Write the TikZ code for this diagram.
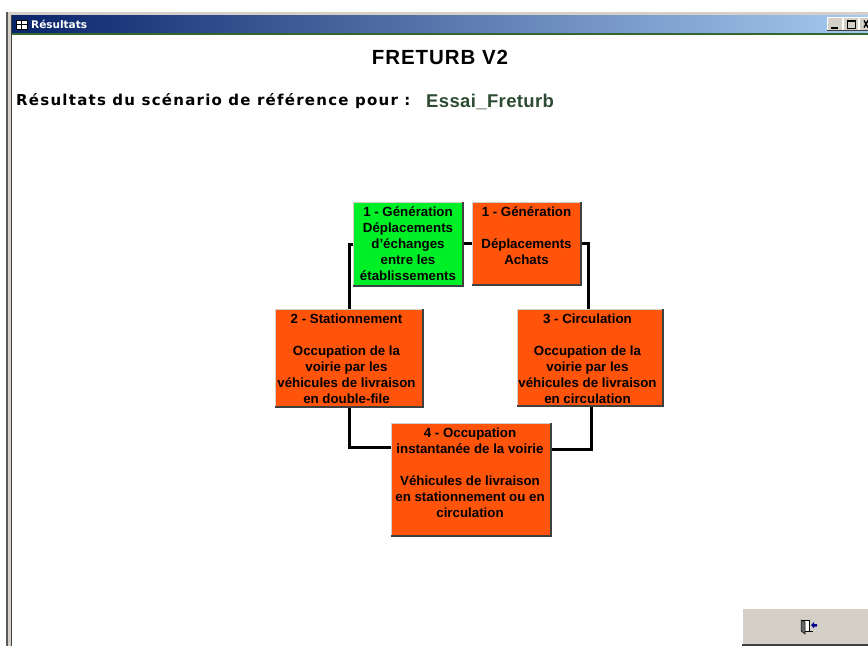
\documentclass[tikz,border=0pt]{standalone}
\usepackage{fontspec}
\setmainfont{Liberation Sans}
\newfontfamily\verd{DejaVu Sans}
\usetikzlibrary{calc}
\definecolor{orangebox}{RGB}{255,84,10}
\definecolor{greenbox}{RGB}{0,240,40}
\definecolor{winface}{RGB}{212,208,200}
\definecolor{titleL}{RGB}{10,36,106}
\definecolor{titleR}{RGB}{166,202,240}
\definecolor{darkedge}{RGB}{64,64,64}
\definecolor{essai}{RGB}{45,75,50}
\newcommand{\bt}[4][0pt]{\parbox[t][#3pt][t]{#2pt}{\centering\rightskip=#1 plus 1fil\fontsize{13.3}{16}\bfseries\selectfont\rule{0pt}{14.3pt}#4\par}}
\newcommand{\bevel}[1]{%
  \draw[bevellight] (#1.south west) -- (#1.north west) -- (#1.north east);
  \draw[beveldark] (#1.north east) -- (#1.south east) -- (#1.south west);}
\tikzset{
  stagebox/.style={inner sep=0pt,outer sep=0pt,anchor=north west,fill=orangebox,text=black},
  stagegreen/.style={stagebox,fill=greenbox},
  link/.style={line width=3pt,line join=miter,draw=black},
  bevellight/.style={line width=1pt,draw=winface},
  beveldark/.style={line width=1.5pt,draw=darkedge},
}
\begin{document}
\begin{tikzpicture}[x=1pt,y=-1pt]
\useasboundingbox (0,0) rectangle (868,646);
% window frame
\fill[winface] (6,12) rectangle (868,15);
\fill[gray!70!black] (6,12) rectangle (8,646);
\fill[winface] (8,15) rectangle (11,646);
\fill[darkedge] (11.2,15) rectangle (12.4,646);
\shade[left color=titleL,right color=titleR] (12,15) rectangle (868,33);
\fill[darkedge!80!green] (12,33) rectangle (868,35);
% title bar
\node[anchor=west,inner sep=0pt,text=white,font=\fontsize{10.5}{12}\verd\bfseries\selectfont] (wintitle) at (31,24) {Résultats};
\fill[white] (16,20) rectangle (27,29);
\draw[black,line width=.8pt] (16,20) rectangle (27,29) (16,24.5) -- (27,24.5) (21,20) -- (21,29);
\foreach \bx in {827,843,859}{
  \fill[white] (\bx,17) rectangle ++(15.5,14);
  \fill[winface] (\bx+.8,17.8) rectangle ++(14.5,13);
  \fill[darkedge] (\bx,30.4) rectangle ++(15.5,1);
}
\fill[black] (831,26.5) rectangle (838,28.5);
\draw[black,line width=1pt] (847.5,20.5) rectangle (855,28);
\fill[black] (847,20) rectangle (855.5,21.8);
\draw[black,line width=1.4pt] (864,20.5) -- (868,27.5) (864,27.5) -- (868,20.5);
% headings
\node[inner sep=0pt,font=\fontsize{20.5}{24}\bfseries\selectfont] (title) at (440,57) {\addfontfeatures{LetterSpace=4.5}FRETURB V2};
\node[anchor=west,inner sep=0pt,font=\fontsize{15}{18}\verd\bfseries\selectfont] (sc) at (16,101) {\addfontfeatures{LetterSpace=8.3}Résultats du scénario de référence pour :};
\node[anchor=west,inner sep=0pt,text=essai,font=\fontsize{18.5}{22}\bfseries\selectfont] (essai) at (426,102) {\addfontfeatures{LetterSpace=2}Essai\_Freturb};
% stage boxes
\node[stagegreen] (gen1) at (353,202) {\bt{110}{84}{1 - Génération\\Déplacements\\d'échanges\\entre les\\établissements}};
\node[stagebox] (gen2) at (472,202) {\bt{109}{83}{1 - Génération\\\mbox{}\\Déplacements\\Achats}};
\node[stagebox] (stat) at (275,309) {\bt[5pt]{148}{98}{2 - Stationnement\\\mbox{}\\Occupation de la\\voirie par les\\véhicules de livraison\\en double-file}};
\node[stagebox] (circ) at (517,309) {\bt[5pt]{146}{97}{3 - Circulation\\\mbox{}\\Occupation de la\\voirie par les\\véhicules de livraison\\en circulation}};
\node[stagebox] (occ) at (391,423) {\bt[2pt]{160}{113}{4 - Occupation\\instantanée de la voirie\\\mbox{}\\Véhicules de livraison\\en stationnement ou en\\circulation}};
% connectors
\draw[link] (gen1.west) -| (stat.north);
\draw[link] ([yshift=1pt]gen1.east) -- ([yshift=.5pt]gen2.west);
\draw[link] (gen2.east) -| ([xshift=-2pt]circ.north);
\draw[link] (stat.south) |- ([yshift=32pt]occ.west);
\draw[link] ([xshift=1pt]circ.south) |- ([yshift=30pt]occ.east);
\bevel{gen1}\bevel{gen2}\bevel{stat}\bevel{circ}\bevel{occ}
% exit button
\fill[winface] (743,609) rectangle (868,644);
\fill[darkedge] (742,644) rectangle (868,645.5);
\fill[white] (802,620) rectangle (809,632);
\draw[black,line width=.7pt] (802,620) -- (809,620) -- (809,631) (804,631) -- (813,631);
\fill[gray!80!black,draw=black,line width=.5pt] (801,620) -- (805,622) -- (805,634) -- (801,631) -- cycle;
\fill[blue!55!black] (811,625) -- (814,622) -- (814,624) -- (817,624) -- (817,626.5) -- (814,626.5) -- (814,628.5) -- cycle;
\end{tikzpicture}
\end{document}
